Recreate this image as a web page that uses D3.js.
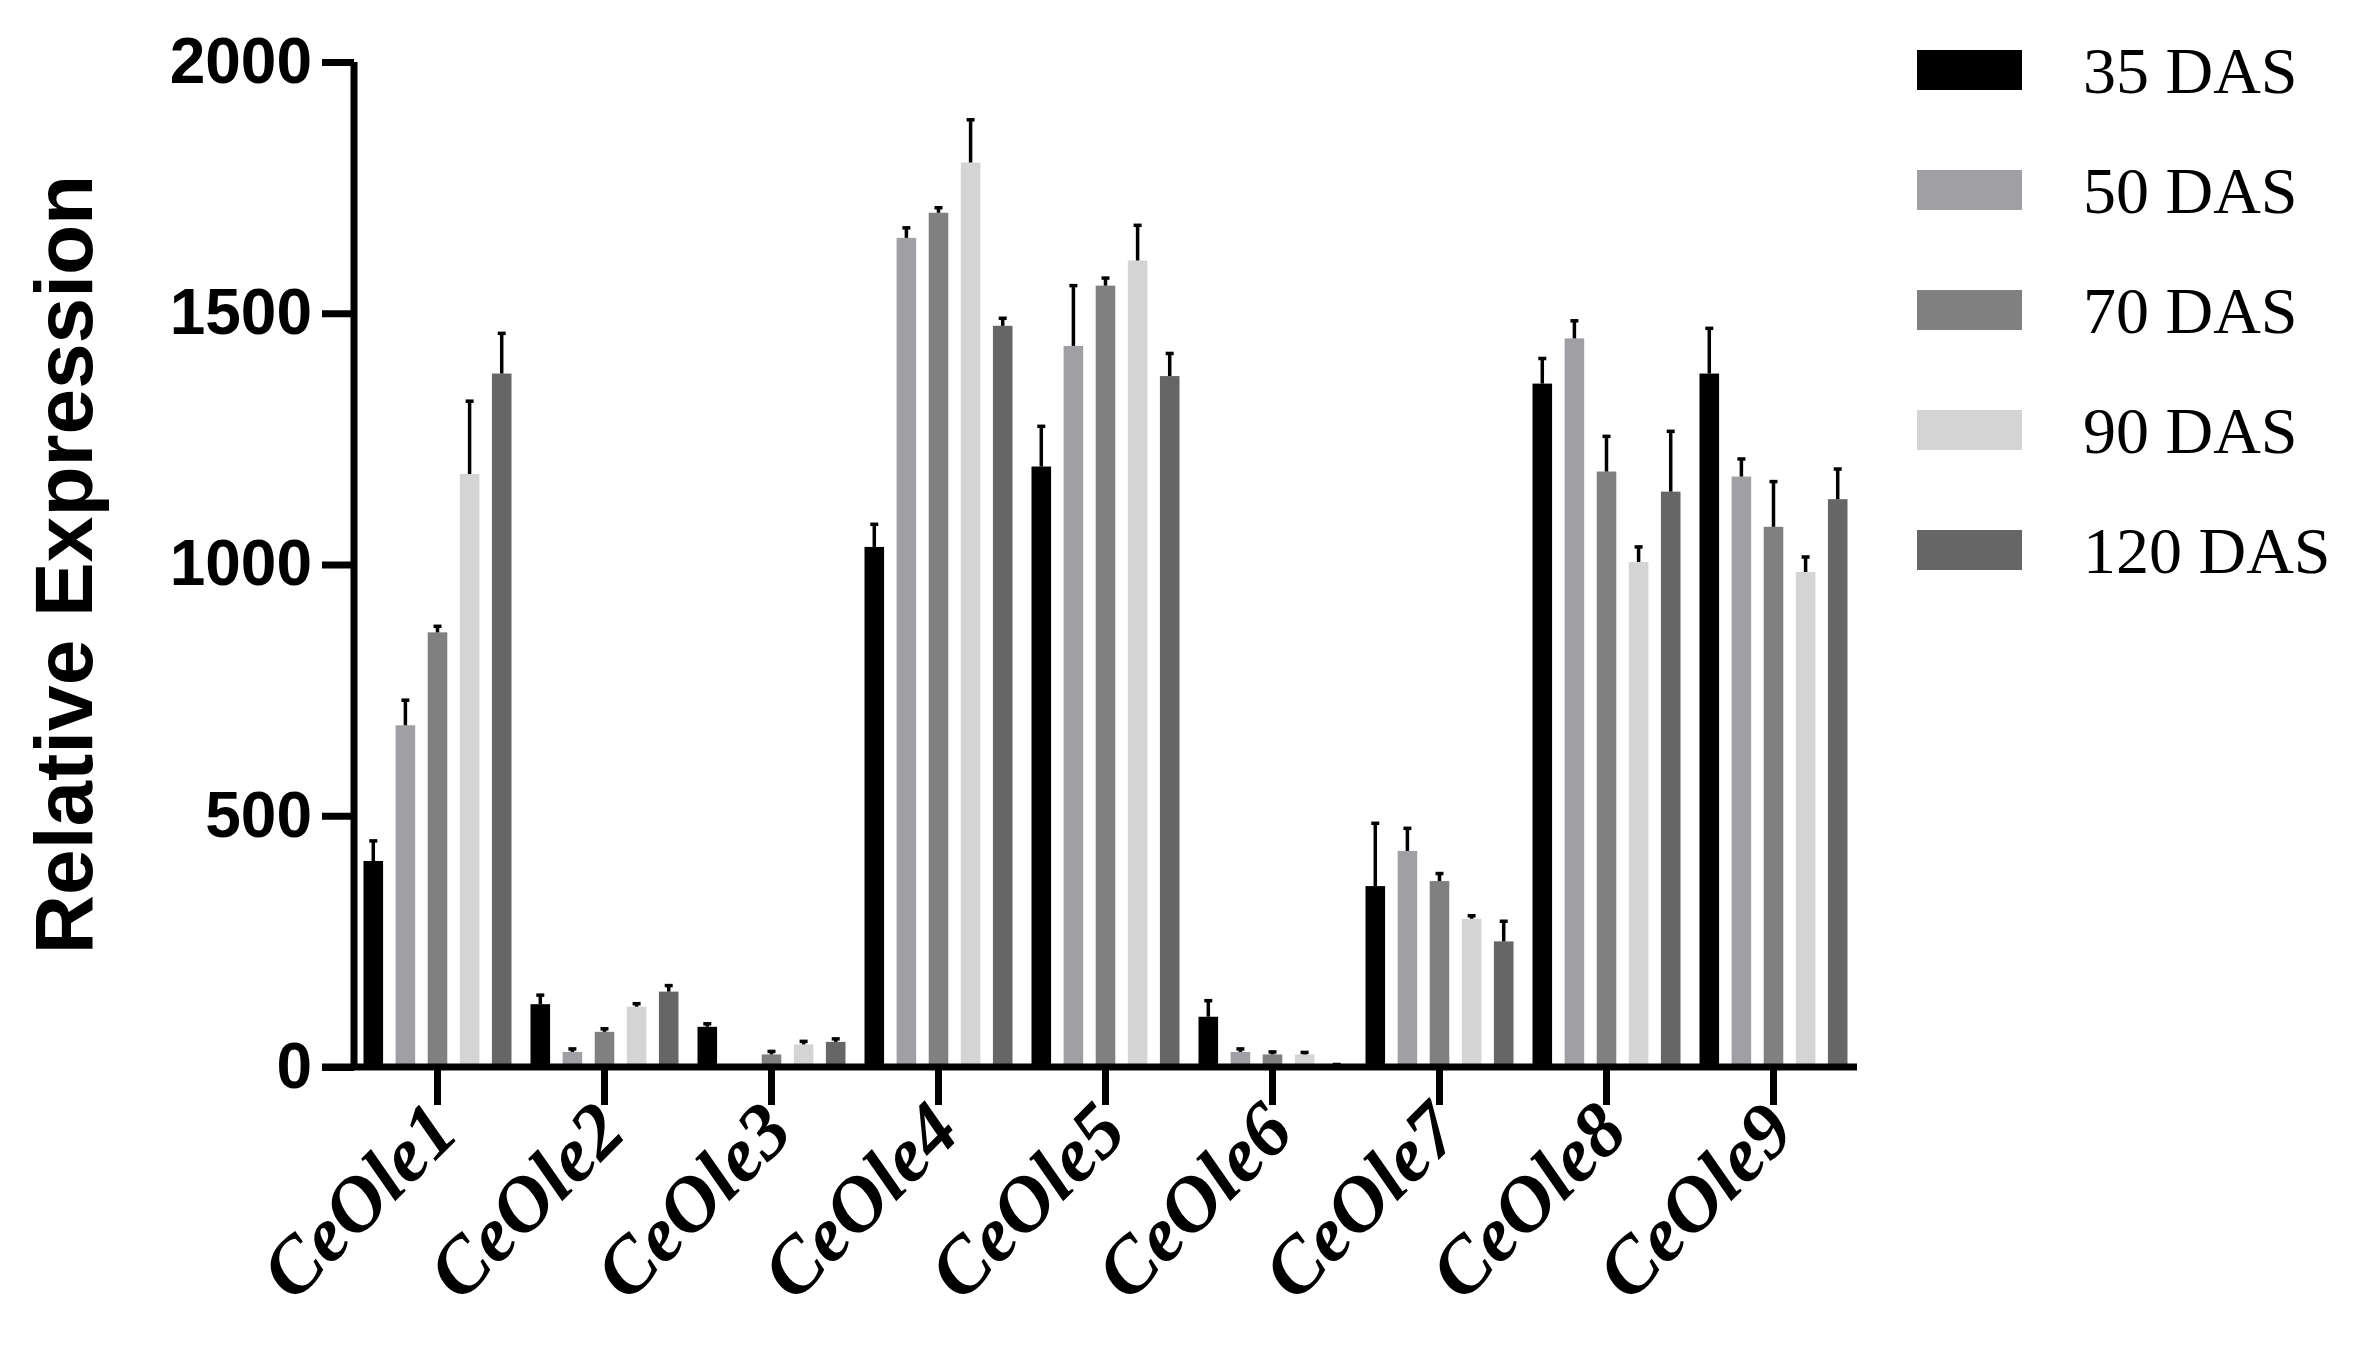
<!DOCTYPE html>
<html>
<head>
<meta charset="utf-8">
<script src="https://cdn.jsdelivr.net/npm/d3@7"></script>
<style>
  body { margin: 0; background: #fff; }
</style>
</head>
<body>
<svg id="chart" width="2361" height="1358"></svg>
<script>
const genes = ['CeOle1', 'CeOle2', 'CeOle3', 'CeOle4', 'CeOle5', 'CeOle6', 'CeOle7', 'CeOle8', 'CeOle9']
const stages = ['35 DAS', '50 DAS', '70 DAS', '90 DAS', '120 DAS']
const colors = ['#000000', '#a0a0a4', '#808080', '#d4d4d4', '#666666']

// mean values per stage, one entry per gene
const das35 = [410, 125, 80, 1035, 1195, 100, 360, 1360, 1380]
const das50 = [680, 30, 0, 1650, 1435, 30, 430, 1450, 1175]
const das70 = [865, 70, 25, 1700, 1555, 25, 370, 1185, 1075]
const das90 = [1180, 120, 45, 1800, 1605, 25, 295, 1005, 985]
const das120 = [1380, 150, 50, 1475, 1375, 5, 250, 1145, 1130]

// upper error bars
const err35 = [40, 18, 6, 45, 80, 32, 125, 50, 90]
const err50 = [50, 6, 0, 20, 120, 6, 45, 35, 35]
const err70 = [12, 6, 6, 10, 15, 5, 15, 70, 90]
const err90 = [145, 6, 6, 85, 70, 4, 6, 30, 30]
const err120 = [80, 12, 6, 15, 45, 0, 40, 120, 60]

const yTicks = [0, 500, 1000, 1500, 2000]

const means = [das35, das50, das70, das90, das120]
const errs = [err35, err50, err70, err90, err120]

const svg = d3.select('#chart')

const x = d3.scaleBand().domain(genes).range([354, 1857]).padding(0)
const sub = d3.scaleBand().domain(stages).range([-74, 74]).paddingInner(0.39).paddingOuter(0)
const y = d3.scaleLinear().domain([0, 2000]).range([1067, 62])

const rows = []
genes.forEach((g, gi) => {
    stages.forEach((s, si) => {
        rows.push({ gene: g, stage: s, si: si, v: means[si][gi], e: errs[si][gi] })
    })
})

const bw = sub.bandwidth()
const cx = d => x(d.gene) + x.bandwidth() / 2 + sub(d.stage) + bw / 2

svg.append('g').selectAll('rect').data(rows).enter().append('rect')
    .attr('x', d => cx(d) - bw / 2)
    .attr('width', bw)
    .attr('y', d => y(d.v))
    .attr('height', d => y(0) - y(d.v))
    .attr('fill', d => colors[d.si])

const eb = svg.append('g').attr('stroke', '#000').attr('stroke-width', 3.5)
const withErr = rows.filter(d => d.v > 0)
eb.selectAll('line.v').data(withErr).enter().append('line')
    .attr('class', 'v')
    .attr('x1', cx).attr('x2', cx)
    .attr('y1', d => y(d.v))
    .attr('y2', d => y(d.v + d.e))
eb.selectAll('line.c').data(withErr).enter().append('line')
    .attr('class', 'c')
    .attr('x1', d => cx(d) - 4).attr('x2', d => cx(d) + 4)
    .attr('y1', d => y(d.v + d.e))
    .attr('y2', d => y(d.v + d.e))

// y axis
const yAxis = svg.append('g').attr('transform', 'translate(354,0)')
    .call(d3.axisLeft(y).tickValues(yTicks).tickSize(32).tickPadding(10).tickFormat(d3.format('d')))
yAxis.select('.domain').attr('stroke-width', 7).attr('d', `M0,${y(2000)}V${y(0)}`)
yAxis.selectAll('.tick line').attr('stroke-width', 7)
yAxis.selectAll('.tick text')
    .attr('font-family', 'Liberation Sans, Arial, sans-serif')
    .attr('font-weight', 'bold').attr('font-size', 64).attr('fill', '#000')

// x axis
const xAxis = svg.append('g').attr('transform', `translate(0,${y(0)})`)
    .call(d3.axisBottom(x).tickSize(38).tickFormat(''))
xAxis.select('.domain').attr('stroke-width', 7).attr('d', 'M322,0H1857')
xAxis.selectAll('.tick line').attr('stroke-width', 7)

svg.append('g').selectAll('text').data(genes).enter().append('text')
    .attr('transform', d => `translate(${x(d) + x.bandwidth() / 2 + 24},1135) rotate(-45)`)
    .attr('text-anchor', 'end')
    .attr('font-family', 'Liberation Serif, Times New Roman, serif')
    .attr('font-weight', 'bold').attr('font-style', 'italic')
    .attr('font-size', 78)
    .text(d => d)

svg.append('text')
    .attr('transform', `translate(92,${(y(0) + y(2000)) / 2 + 0}) rotate(-90)`)
    .attr('text-anchor', 'middle')
    .attr('font-family', 'Liberation Sans, Arial, sans-serif')
    .attr('font-weight', 'bold').attr('font-size', 82)
    .text('Relative Expression')

// legend
const leg = svg.append('g').selectAll('g').data(stages).enter().append('g')
    .attr('transform', (d, i) => `translate(1917,${70 + i * 120})`)
leg.append('rect').attr('x', 0).attr('y', -20).attr('width', 105).attr('height', 40)
    .attr('fill', (d, i) => colors[i])
leg.append('text').attr('x', 166).attr('y', 0).attr('dy', '0.35em')
    .attr('font-family', 'Liberation Serif, Times New Roman, serif')
    .attr('font-size', 66)
    .text(d => d)
</script>
</body>
</html>
